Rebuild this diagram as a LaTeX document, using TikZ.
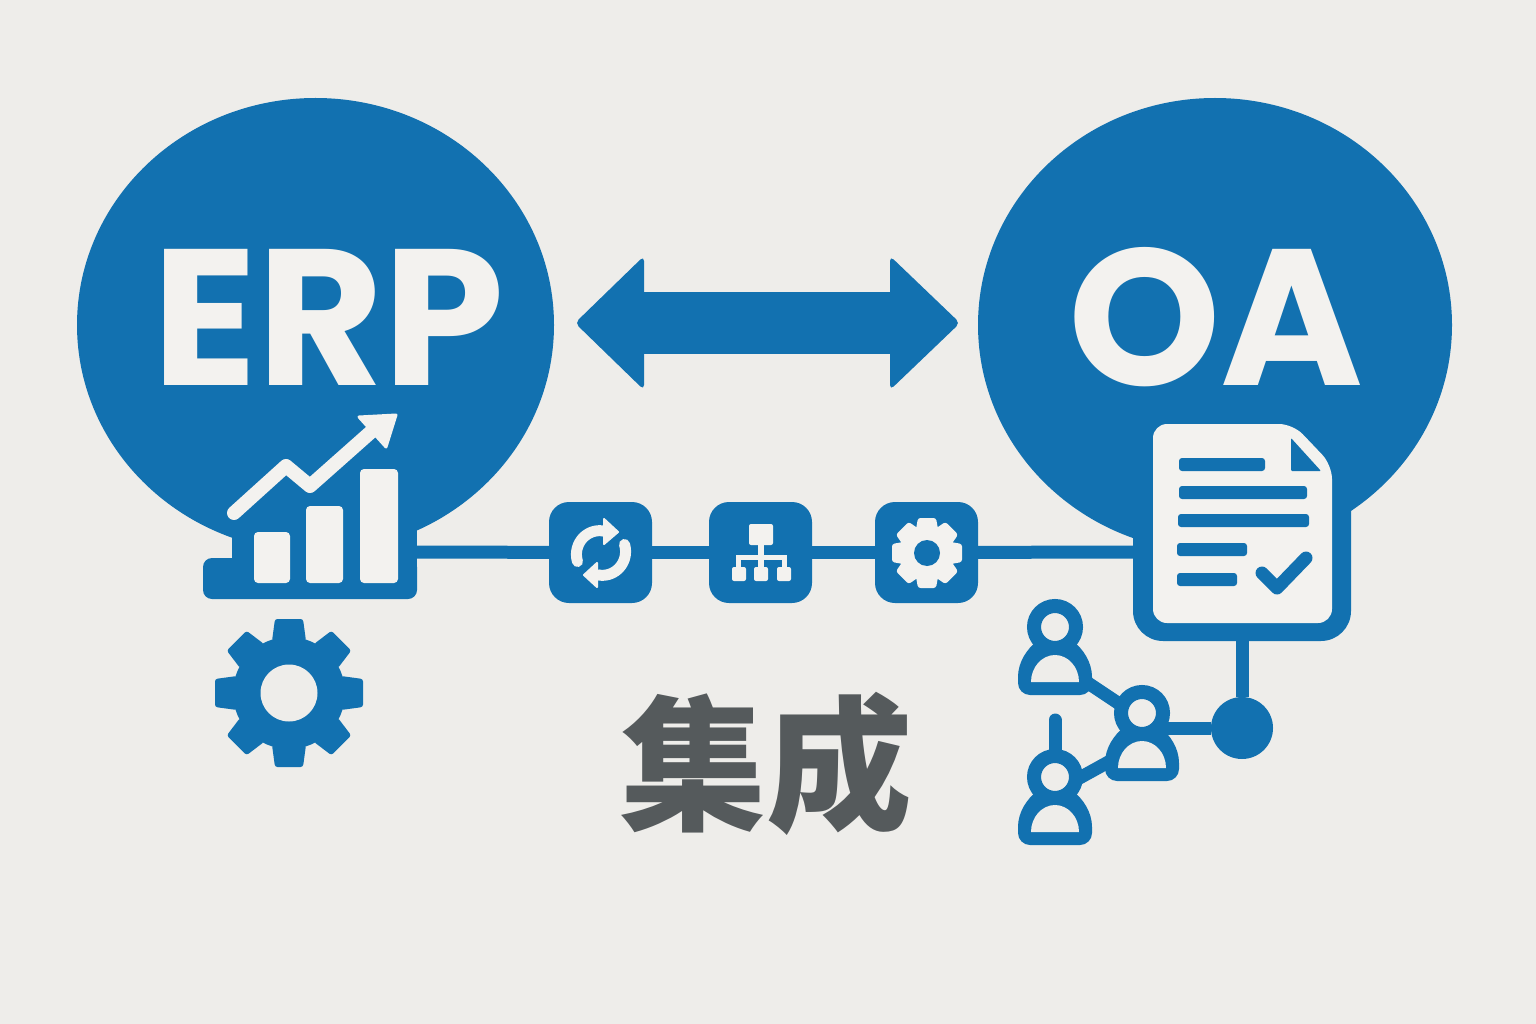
\documentclass[tikz,border=0pt]{standalone}
\usepackage{fontspec}
\setmainfont{Poppins}
\newfontfamily\cjk{Noto Sans CJK SC}[BoldFont={Noto Sans CJK SC Black}]
\usetikzlibrary{shapes.geometric}
\definecolor{bluemain}{HTML}{1271B0}
\definecolor{paper}{HTML}{EEEDEA}
\definecolor{lightfill}{HTML}{F3F2EF}
\definecolor{inkgrey}{HTML}{555A5C}
\tikzset{
  blob/.style={ellipse,fill=bluemain,draw=none,inner sep=0pt,minimum width=#1},
  bigtext/.style={text=lightfill,inner sep=0pt,font=\bfseries\fontsize{194}{200}\selectfont},
  iconbox/.style={rectangle,rounded corners=20pt,fill=bluemain,minimum width=103pt,minimum height=101pt,inner sep=0pt},
  link/.style={draw=bluemain,line width=13pt},
  barshape/.style={fill=lightfill,rounded corners=4pt},
  docline/.style={fill=bluemain,rounded corners=3pt},
  lightstroke/.style={draw=lightfill,line width=#1,line cap=round,line join=round},
  bluestroke/.style={draw=bluemain,line width=#1,line cap=round,line join=round},
  smallsq/.style={fill=lightfill,rounded corners=2pt},
  hubdot/.style={circle,fill=bluemain,minimum size=62pt,inner sep=0pt},
  headring/.style={circle,fill=paper,draw=bluemain,line width=14pt,minimum size=42pt,inner sep=0pt},
}
% cx cy bodyR tipR baseHalf tipHalf holeR fg hole
\newcommand{\geargl}[9]{%
  \begin{scope}[shift={(#1,#2)}]
    \fill[#8] (0,0) circle[radius=#3];
    \foreach \a in {0,45,...,315}{
      \fill[#8,rotate=\a,rounded corners=2.5pt] (-#5,-#3+4) -- (-#6,-#4) -- (#6,-#4) -- (#5,-#3+4) -- cycle;
    }
    \fill[#9] (0,0) circle[radius=#7];
  \end{scope}}
\newcommand{\domebody}[3]{% name, head x, head y
  \fill[bluemain] (#2-37,#3+50) .. controls (#2-37,#3+35) and (#2-28,#3+22) .. (#2-18,#3+14)
    -- (#2+18,#3+14) .. controls (#2+28,#3+22) and (#2+37,#3+35) .. (#2+37,#3+50) -- cycle;
  \fill[bluemain,rounded corners=12pt] (#2-37,#3+38) rectangle (#2+37,#3+68);
  \fill[paper] (#2-24,#3+55) .. controls (#2-24,#3+40) and (#2-13,#3+28) .. (#2,#3+28)
    .. controls (#2+13,#3+28) and (#2+24,#3+40) .. (#2+24,#3+55) -- cycle;
  \node[headring] (#1) at (#2,#3) {};}
\begin{document}
\begin{tikzpicture}[x=1pt,y=-1pt]
\useasboundingbox (0,0) rectangle (1536,1024);
\fill[paper] (0,0) rectangle (1536,1024);

% main circles
\node[blob=477pt,minimum height=454pt] (erp) at (315.5,325) {};
\node[blob=474pt,minimum height=454pt] (oa) at (1215,325) {};
\node[bigtext] (erplabel) at (328.5,317.5) {ERP};
\node[bigtext] (oalabel) at (1216,317.5) {OA};

% double arrow
\fill[bluemain] (640,292) rectangle (895,354);
\fill[bluemain,rounded corners=5pt] (575,323) -- (644,256) -- (644,390) -- cycle;
\fill[bluemain,rounded corners=5pt] (960,323) -- (890,256) -- (890,390) -- cycle;

% chart base
\fill[bluemain,rounded corners=9pt] (203,558) rectangle (417,599);
\fill[bluemain] (232,500) rectangle (417,575);
\fill[barshape] (254,532) rectangle (290,583);
\fill[barshape] (306,506) rectangle (343,583);
\fill[barshape] (360,469) rectangle (398,583);
\draw[lightstroke=14pt] (234,513) -- (286,466) -- (310,486) -- (372,431);
\fill[lightfill,draw=lightfill,line width=3pt,line join=round] (359,417) -- (396,415) -- (386,447) -- cycle;
\coordinate (chartout) at (417,552);

% big gear
\geargl{289}{693}{56}{74}{17}{14}{28.5}{bluemain}{paper}

% doc frame and page
\fill[bluemain,rounded corners=30pt] (1133,440) rectangle (1351,641);
\coordinate (docin) at (1133,552);
\coordinate (docstem) at (1242,641);
\fill[lightfill,rounded corners=14pt] (1153,424) -- (1293,424) -- (1332,465) -- (1332,623) -- (1153,623) -- cycle;
\fill[bluemain,rounded corners=1pt] (1291,438) -- (1321,471) -- (1291,471) -- cycle;
\fill[docline] (1179,458) rectangle (1265,471);
\fill[docline] (1179,486) rectangle (1307,499);
\fill[docline] (1178,514) rectangle (1309,527);
\fill[docline] (1177,543) rectangle (1247,556);
\fill[docline] (1177,573) rectangle (1237,586);
\draw[bluestroke=13pt] (1262,573) -- (1277,588) -- (1306,558);

% icon boxes
\node[iconbox] (sync) at (600.5,552.5) {};
\node[iconbox] (hier) at (760.5,552.5) {};
\node[iconbox] (setup) at (926.5,552.5) {};
\draw[link] (chartout) -- (sync);
\draw[link] (sync) -- (hier);
\draw[link] (hier) -- (setup);
\draw[link] (setup) -- (docin);

% sync icon
\draw[draw=lightfill,line width=11pt,line cap=round] plot[domain=160:277,samples=40] ({601+(25-(\x-160)*0.025)*cos(\x)},{553+(25-(\x-160)*0.025)*sin(\x)});
\fill[lightfill,draw=lightfill,line width=2pt,line join=round] (604,519) -- (618,532) -- (604,544) -- cycle;
\draw[draw=lightfill,line width=11pt,line cap=round] plot[domain=-20:97,samples=40] ({601+(25-(\x+20)*0.025)*cos(\x)},{553+(25-(\x+20)*0.025)*sin(\x)});
\fill[lightfill,draw=lightfill,line width=2pt,line join=round] (597,563) -- (584,575) -- (597,587) -- cycle;

% hierarchy icon
\fill[smallsq] (749,524) rectangle (773,545);
\fill[lightfill] (758,545) rectangle (764,569);
\fill[lightfill] (736,555) rectangle (787,560);
\fill[lightfill] (736,555) rectangle (741,569);
\fill[lightfill] (782,555) rectangle (787,569);
\fill[smallsq] (732,567) rectangle (746,581);
\fill[smallsq] (754,567) rectangle (768,581);
\fill[smallsq] (777,567) rectangle (791,581);

% small gear
\geargl{927}{553}{28}{35}{11}{9}{13}{lightfill}{bluemain}

% people network
\coordinate (lonetop) at (1055,720);
\node[hubdot] (hub) at (1242,728) {};
\coordinate (p2out) at (1142,728);
\coordinate (p3c) at (1055,777);
\draw[link] (docstem) -- (hub);
\draw[link] (p2out) -- (hub);
\draw[draw=bluemain,line width=13pt] (1085,681) -- (1124,707);
\draw[draw=bluemain,line width=13pt] (1074,781) -- (1112,760);
\draw[draw=bluemain,line width=13pt,line cap=round] (lonetop) -- (p3c);
\domebody{person1}{1055}{627}
\domebody{person2}{1142}{713}
\domebody{person3}{1055}{777}

% title
\node[text=inkgrey,inner sep=0pt,font=\cjk\bfseries\fontsize{146}{150}\selectfont] (title) at (766,764) {集成};
\end{tikzpicture}
\end{document}
